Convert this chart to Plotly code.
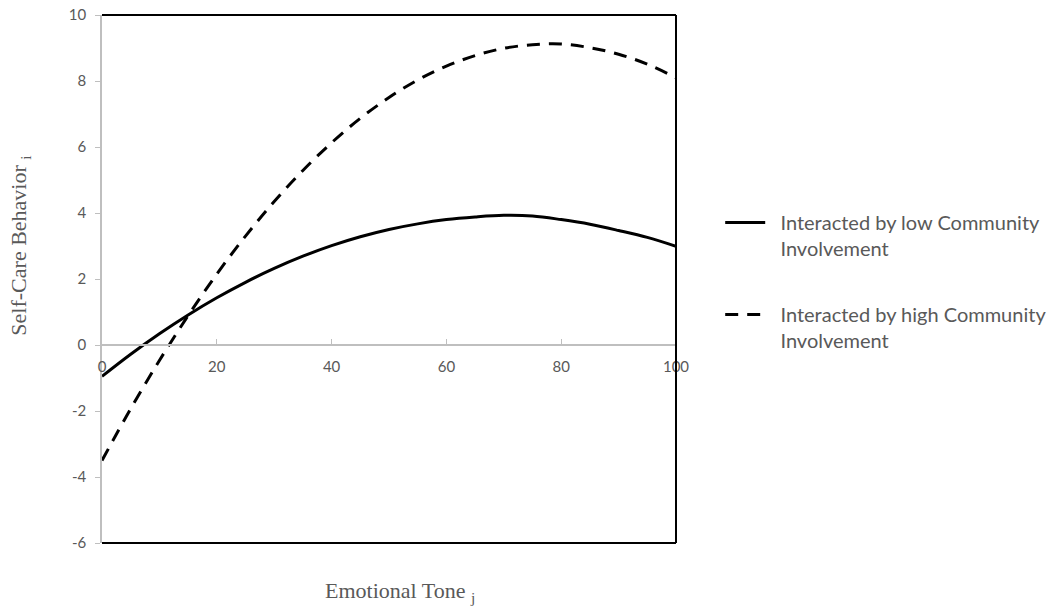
import plotly.graph_objects as go

# Data
tone_x = [0, 5, 10, 15, 20, 25, 30, 35, 40, 45, 50, 55, 60, 65, 70, 75, 80, 85, 90, 95, 100]
low_ci = [-0.95, -0.28, 0.34, 0.91, 1.43, 1.90, 2.32, 2.69, 3.01, 3.28, 3.50, 3.67, 3.80, 3.88,
          3.93, 3.91, 3.80, 3.66, 3.47, 3.26, 2.99]
high_ci = [-3.50, -1.93, -0.47, 0.89, 2.15, 3.30, 4.35, 5.29, 6.13, 6.87, 7.50, 8.03, 8.45, 8.77,
           8.99, 9.10, 9.12, 9.01, 8.81, 8.51, 8.10]
x_ticks = [0, 20, 40, 60, 80, 100]
x_tick_labels = ["0", "20", "40", "60", "80", "100"]
y_ticks = [-6, -4, -2, 0, 2, 4, 6, 8, 10]
y_tick_labels = ["-6", "-4", "-2", "0", "2", "4", "6", "8", "10"]
y_range = [-6, 10]
x_range = [0, 100]

PAD = "\u00a0\u00a0"
name_low = PAD + "Interacted by low Community<br>" + PAD + "Involvement"
name_high = PAD + "Interacted by high Community<br>" + PAD + "Involvement"

GRAY = "#595959"
AXIS = "#bfbfbf"
TICKFONT = dict(family="Lato, Liberation Sans, sans-serif", size=15, color=GRAY)

fig = go.Figure()
fig.add_trace(go.Scatter(x=tone_x, y=low_ci, mode="lines", name=name_low, legendgroup="a",
                         line=dict(color="black", width=3, shape="spline")))
fig.add_trace(go.Scatter(x=tone_x, y=high_ci, mode="lines", name=name_high, legendgroup="b",
                         line=dict(color="black", width=3, dash="13px,9px", shape="spline")))

zero_pos = (0 - y_range[0]) / (y_range[1] - y_range[0])

fig.update_layout(
    template="none",
    width=1061, height=611,
    margin=dict(l=102, r=385, t=15, b=68, autoexpand=False),
    paper_bgcolor="white", plot_bgcolor="white",
    showlegend=True,
    legend=dict(x=1.077, y=0.644, xanchor="left", yanchor="top",
                font=dict(family="Lato, Liberation Sans, sans-serif", size=20, color=GRAY),
                tracegroupgap=37, valign="top", bgcolor="rgba(0,0,0,0)", itemwidth=40),
    xaxis=dict(range=x_range, tickvals=x_ticks, ticktext=x_tick_labels,
               showgrid=False, zeroline=False, automargin=False,
               showline=True, linecolor=AXIS, linewidth=1.5,
               ticks="inside", ticklen=5, tickcolor=AXIS, tickwidth=1,
               anchor="free", position=zero_pos, tickfont=TICKFONT,
               ticklabelstandoff=8, ticklabeloverflow="allow"),
    yaxis=dict(range=y_range, tickvals=y_ticks, ticktext=y_tick_labels,
               showgrid=False, zeroline=False, automargin=False,
               showline=True, linecolor=AXIS, linewidth=1.5,
               ticks="outside", ticklen=5, tickcolor=AXIS, tickwidth=1,
               tickfont=TICKFONT, ticklabelstandoff=6, ticklabeloverflow="allow"),
)

# Black frame on top, right and bottom of the plot area
for x0, y0, x1, y1 in [(0, 1, 1, 1), (1, 0, 1, 1), (0, 0, 1, 0)]:
    fig.add_shape(type="line", xref="x domain", yref="y domain", x0=x0, y0=y0, x1=x1, y1=y1,
                  line=dict(color="black", width=2), layer="above")

TITLEFONT = dict(family="Liberation Serif, Times New Roman, serif", size=22, color=GRAY)
fig.add_annotation(text="Emotional Tone <sub>j</sub>", xref="x domain", yref="y domain",
                   x=0.52, y=-0.093, yanchor="middle", showarrow=False, font=TITLEFONT)
fig.add_annotation(text="Self-Care Behavior <sub>i</sub>", xref="x domain", yref="y domain",
                   x=-0.143, y=0.563, textangle=-90, xanchor="center", yanchor="middle",
                   showarrow=False, font=TITLEFONT)

fig.write_html("out.html", config={"displayModeBar": False},
               post_script="document.body.style.margin='0px';")
